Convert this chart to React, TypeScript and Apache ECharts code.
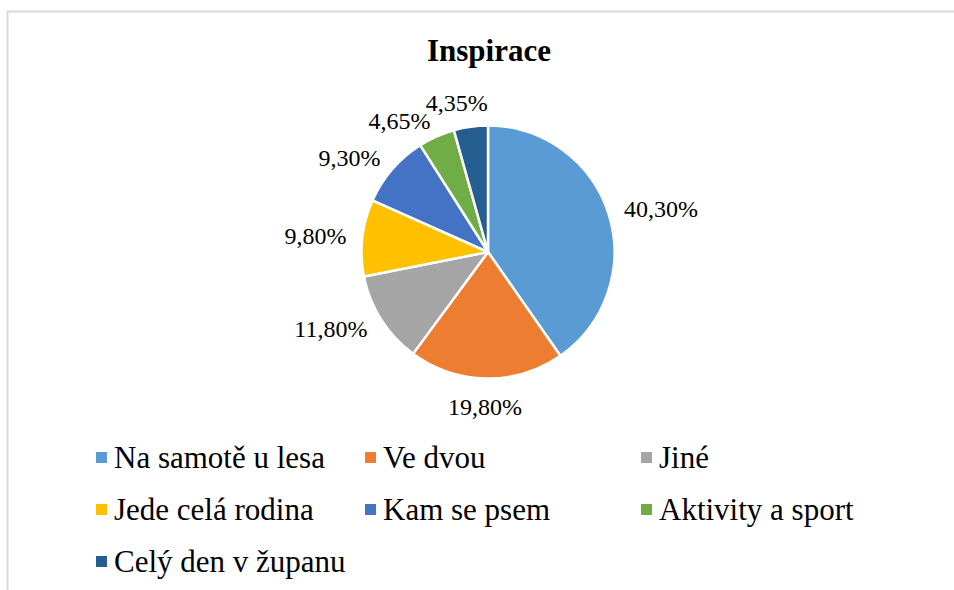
import React, { useEffect, useRef } from "react";
import * as echarts from "echarts";

const categories = [
  "Na samotě u lesa",
  "Ve dvou",
  "Jiné",
  "Jede celá rodina",
  "Kam se psem",
  "Aktivity a sport",
  "Celý den v županu",
];
const values = [40.3, 19.8, 11.8, 9.8, 9.3, 4.65, 4.35];
const colors = ["#5B9BD5", "#ED7D31", "#A5A5A5", "#FFC000", "#4472C4", "#70AD47", "#255E91"];

const CX = 488;
const CY = 252;
const R = 126.5;
const GAP = 17;
const FONT = "Liberation Serif";
const LEGEND_COL_X = [96, 365, 641];
const LEGEND_ROW_Y = [457.5, 509.5, 561.5];
const LABEL_SIZE = 24;

export default function App() {
  const ref = useRef<HTMLDivElement>(null);
  useEffect(() => {
    if (!ref.current) return;
    const chart = echarts.init(ref.current, undefined, { renderer: "svg" });
    const total = values.reduce((a, b) => a + b, 0);
    const mids: number[] = [];
    let acc = 0;
    values.forEach((v) => {
      mids.push(((acc + v / 2) / total) * Math.PI * 2);
      acc += v;
    });

    const fmt = (v: number) => v.toFixed(2).replace(".", ",") + "%";

    const labelEls = values.map((v, i) => {
      const text = fmt(v);
      const th = mids[i];
      const ux = Math.sin(th);
      const uy = -Math.cos(th);
      const px = CX + ux * (R + GAP);
      const py = CY + uy * (R + GAP);
      const hw = (text.length * 0.5 * LABEL_SIZE) / 2;
      const hh = LABEL_SIZE / 2;
      const T = 0.35;
      let ox = 0;
      let oy = 0;
      if (Math.abs(ux) >= T) {
        ox = Math.sign(ux) * hw;
      } else {
        ox = (ux / T) * hw;
        oy = Math.sign(uy) * hh * (1 - Math.abs(ux) / T);
      }
      return {
        type: "text",
        x: px + ox,
        y: py + oy,
        silent: true,
        style: {
          text,
          font: undefined,
          fontFamily: FONT,
          fontWeight: "normal",
          fontSize: LABEL_SIZE,
          fill: "#000",
          align: "center",
          verticalAlign: "middle",
          textAlign: "center",
          textVerticalAlign: "middle",
        },
      };
    });

    const legendEls: any[] = [];
    categories.forEach((name, i) => {
      const sx = LEGEND_COL_X[i % 3];
      const cy = LEGEND_ROW_Y[Math.floor(i / 3)];
      legendEls.push({
        type: "rect",
        silent: true,
        shape: { x: sx, y: cy - 5.5, width: 11, height: 11 },
        style: { fill: colors[i] },
      });
      legendEls.push({
        type: "text",
        x: sx + 18,
        y: cy,
        silent: true,
        style: {
          text: name,
          font: undefined,
          fontFamily: FONT,
          fontWeight: "normal",
          fontSize: 31,
          fill: "#000",
          align: "left",
          verticalAlign: "middle",
          textAlign: "left",
          textVerticalAlign: "middle",
        },
      });
    });

    chart.setOption({
      animation: false,
      backgroundColor: "#fff",
      color: colors,
      title: {
        text: "Inspirace",
        left: 427,
        top: 35,
        padding: 0,
        textStyle: { fontFamily: FONT, fontSize: 31, fontWeight: "bold", color: "#000" },
      },
      graphic: [
        {
          type: "rect",
          shape: { x: 7.5, y: 11.5, width: 1000, height: 1000 },
          style: { fill: "none", stroke: "#d9d9d9", lineWidth: 2 },
          silent: true,
        },
        ...labelEls,
        ...legendEls,
      ],
      series: [
        {
          type: "pie",
          center: [CX, CY],
          radius: R,
          startAngle: 90,
          clockwise: true,
          avoidLabelOverlap: false,
          itemStyle: { borderColor: "#fff", borderWidth: 2.5 },
          label: { show: false },
          labelLine: { show: false },
          data: categories.map((name, i) => ({ name, value: values[i] })),
        },
      ],
    });
    return () => chart.dispose();
  }, []);
  return (
    <div
      ref={ref}
      style={{ position: "fixed", left: 0, top: 0, width: 954, height: 590 }}
    />
  );
}
